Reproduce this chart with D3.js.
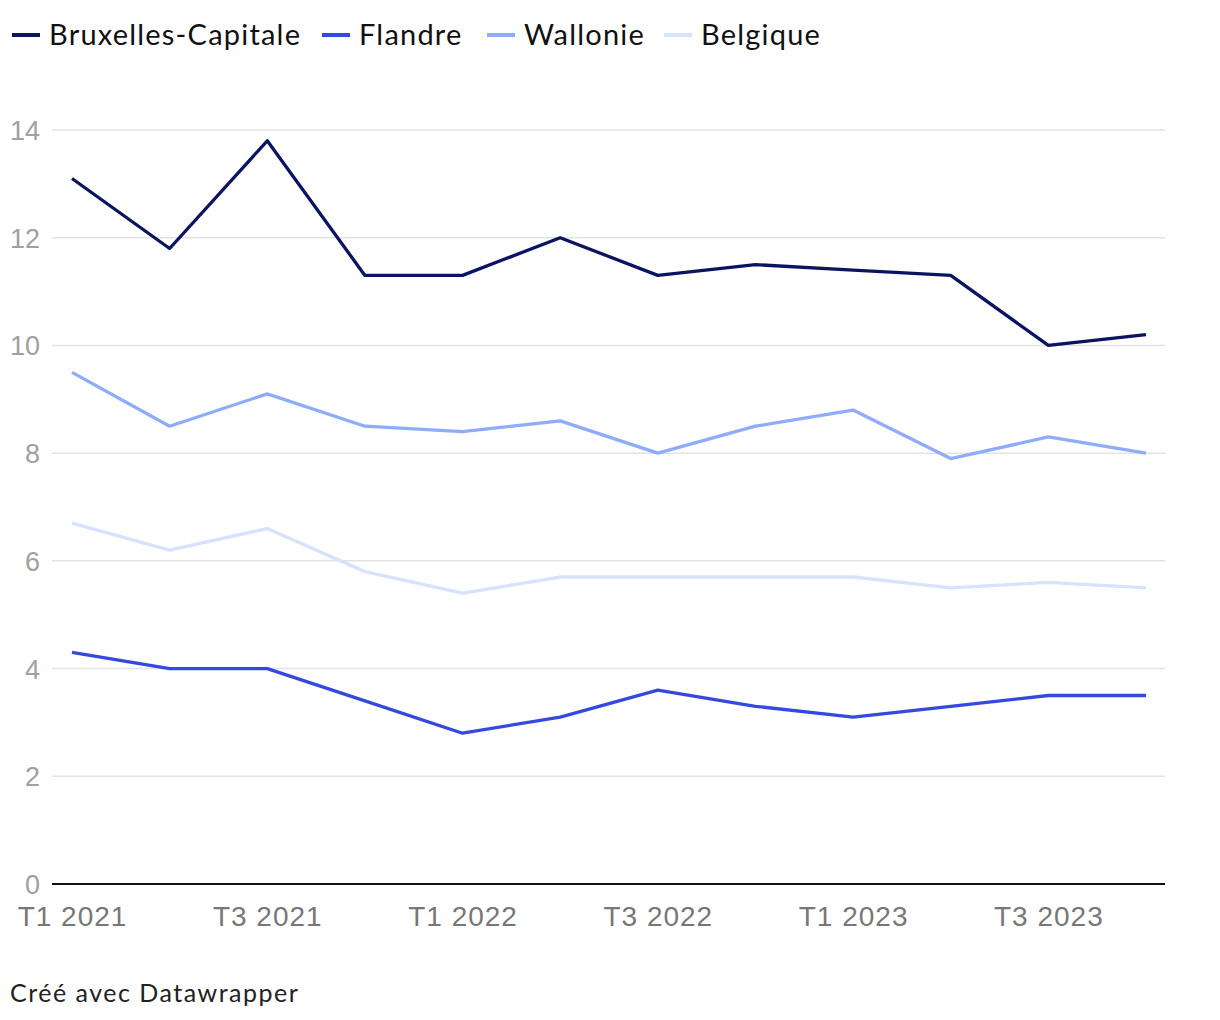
<!DOCTYPE html>
<html><head><meta charset="utf-8">
<script src="https://cdn.jsdelivr.net/npm/d3@7"></script>
<style>
body{margin:0;background:#fff;}
svg{display:block;font-family:Lato,"Noto Sans",sans-serif;}
</style></head>
<body><svg id="c" width="1220" height="1020"></svg>
<script>
const categories = ["T1 2021","T2 2021","T3 2021","T4 2021","T1 2022","T2 2022","T3 2022","T4 2022","T1 2023","T2 2023","T3 2023","T4 2023"];
const bruxelles = [13.1,11.8,13.8,11.3,11.3,12.0,11.3,11.5,11.4,11.3,10.0,10.2];
const flandre   = [4.3,4.0,4.0,3.4,2.8,3.1,3.6,3.3,3.1,3.3,3.5,3.5];
const wallonie  = [9.5,8.5,9.1,8.5,8.4,8.6,8.0,8.5,8.8,7.9,8.3,8.0];
const belgique  = [6.7,6.2,6.6,5.8,5.4,5.7,5.7,5.7,5.7,5.5,5.6,5.5];
const seriesNames = ["Bruxelles-Capitale","Flandre","Wallonie","Belgique"];
const seriesColors = ["#0b1460","#3549e0","#8eacfa","#d7e3fc"];
const yTicks = [0,2,4,6,8,10,12,14];
const xTickLabels = ["T1 2021","T3 2021","T1 2022","T3 2022","T1 2023","T3 2023"];

const series = [bruxelles, flandre, wallonie, belgique];
const svg = d3.select("#c");
const x = d3.scalePoint().domain(categories).range([72,1146]);
const y = d3.scaleLinear().domain([0,14]).range([884,130]);

// y axis labels
const yAxis = d3.axisLeft(y).tickValues(yTicks).tickSize(0).tickPadding(12);
const gy = svg.append("g").attr("transform","translate(52,0)").call(yAxis);
gy.select(".domain").remove();
gy.selectAll("text").attr("fill","#a0a0a0").attr("font-size",27).attr("dy","0.35em").attr("x",-12);
// gridlines
svg.append("g").selectAll("line").data(yTicks.filter(d=>d>0)).join("line")
  .attr("x1",52).attr("x2",1165).attr("y1",d=>y(d)).attr("y2",d=>y(d))
  .attr("stroke","#e3e3e3").attr("stroke-width",1.5);

// lines
const line = d3.line().x((d,i)=>x(categories[i])).y(d=>y(d));
[3,2,1,0].forEach(k=>{
  svg.append("path").datum(series[k]).attr("d",line).attr("fill","none")
    .attr("stroke",seriesColors[k]).attr("stroke-width",3.3).attr("stroke-linejoin","round");
});

// baseline
svg.append("line").attr("x1",52).attr("x2",1165).attr("y1",y(0)).attr("y2",y(0))
  .attr("stroke","#111").attr("stroke-width",2);

// x axis
const xAxis = d3.axisBottom(x).tickValues(xTickLabels).tickSize(0).tickPadding(0);
const gx = svg.append("g").attr("transform","translate(0,"+y(0)+")").call(xAxis);
gx.select(".domain").remove();
gx.selectAll("text").attr("fill","#777").attr("font-size",28).attr("letter-spacing",1).attr("y",42).attr("dy",0);

// legend
const legendX = [12,322,487,664];
const lg = svg.append("g").selectAll("g").data(seriesNames).join("g")
  .attr("transform",(d,i)=>"translate("+legendX[i]+",35)");
lg.append("line").attr("x1",0).attr("x2",28).attr("y1",0).attr("y2",0)
  .attr("stroke",(d,i)=>seriesColors[i]).attr("stroke-width",4);
lg.append("text").attr("x",37).attr("y",0).attr("dy","0.35em").attr("font-size",29)
  .attr("letter-spacing",1.2).attr("fill","#111").text(d=>d);

// footer
svg.append("text").attr("x",10).attr("y",1002).attr("font-size",25).attr("letter-spacing",1.5).attr("fill","#222")
  .text("Créé avec Datawrapper");
</script></body></html>
